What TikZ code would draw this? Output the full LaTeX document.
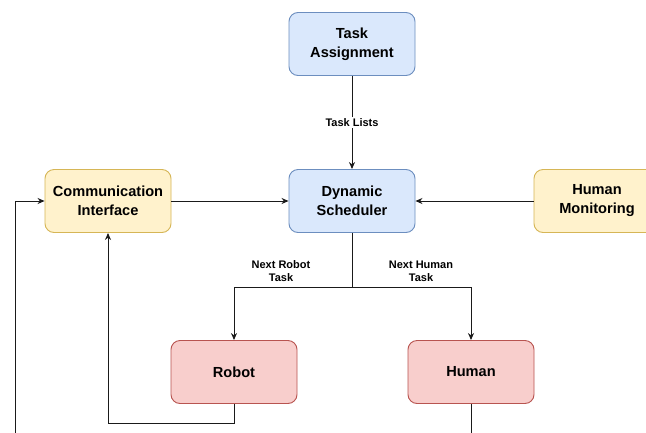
\documentclass[tikz,border=0pt]{standalone}
\usepackage{fontspec}
\setmainfont{Liberation Sans}
\usetikzlibrary{arrows.meta}
\definecolor{bluefill}{HTML}{DAE8FC}
\definecolor{blueline}{HTML}{6C8EBF}
\definecolor{yellowfill}{HTML}{FFF2CC}
\definecolor{yellowline}{HTML}{D6B656}
\definecolor{redfill}{HTML}{F8CECC}
\definecolor{redline}{HTML}{B85450}
\definecolor{wire}{HTML}{1A1A1A}
\tikzset{
  box/.style={draw, rounded corners=9pt, minimum width=126pt, minimum height=63pt,
    line width=0.9pt, align=center, inner sep=0pt,
    font=\fontsize{14.6}{19}\selectfont\bfseries},
  planbox/.style={box, fill=bluefill, draw=blueline},
  ifacebox/.style={box, fill=yellowfill, draw=yellowline},
  agentbox/.style={box, fill=redfill, draw=redline},
  wirestyle/.style={draw=wire, line width=1pt},
  flow/.style={wirestyle, -{Stealth[length=7pt,width=6pt]}},
  edgelabel/.style={align=center, inner sep=1.5pt, font=\fontsize{11}{13}\selectfont\bfseries}
}
\begin{document}
\begin{tikzpicture}[x=1pt,y=-1pt]
  \useasboundingbox[fill=white] (0,0) rectangle (646,432);
  \clip (0,0) rectangle (646,432);

  % components
  \node[planbox]  (assign) at (352,44)  {Task\\Assignment};
  \node[planbox]  (sched)  at (352,201) {Dynamic\\Scheduler};
  \node[ifacebox] (comm)   at (108,201) {Communication\\Interface};
  \node[ifacebox] (monit)  at (597,201) {Human\\Monitoring};
  \node[agentbox] (robot)  at (234,372) {Robot};
  \node[agentbox] (human)  at (471,372) {Human};

  % loose ends running past the lower edge
  \coordinate (humanout) at (471,445);
  \coordinate (feedin)   at (15,445);
  \coordinate (split)    at (352,287);

  % planning flow
  \draw[flow] (assign) -- node[edgelabel, fill=white] {Task Lists} (sched);
  \draw[flow] (comm) -- (sched);
  \draw[flow] (monit) -- (sched);
  \draw[wirestyle] (sched.south) -- (split);
  \draw[flow] (split) -| (robot.north);
  \draw[flow] (split) -| (human.north);
  \node[edgelabel] (robotlbl) at (281,271) {Next Robot\\Task};
  \node[edgelabel] (humanlbl) at (421,271) {Next Human\\Task};

  % feedback paths
  \draw[flow] (robot.south) |- (108,423) -- (comm.south);
  \draw[wirestyle] (human.south) -- (humanout);
  \draw[flow] (feedin) |- (comm.west);
\end{tikzpicture}
\end{document}
